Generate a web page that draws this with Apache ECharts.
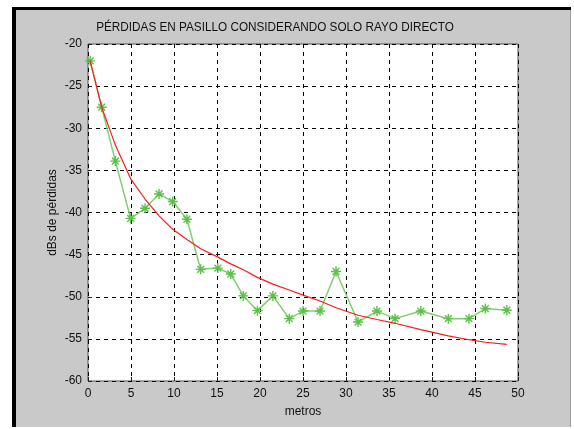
<!DOCTYPE html>
<html>
<head>
<meta charset="utf-8">
<script src="https://cdn.jsdelivr.net/npm/echarts@6/dist/echarts.min.js"></script>
<style>
html,body{margin:0;padding:0;background:#fff;}
#c{width:574px;height:429px;}
</style>
</head>
<body>
<div id="c"></div>
<script>
// distances (metres)
var distances = [0.25, 1.59, 3.18, 4.96, 6.63, 8.26, 9.85, 11.5, 13.1, 15.1, 16.6, 18.06, 19.7, 21.5, 23.4, 25.0, 26.98, 28.84, 31.4, 33.6, 35.7, 38.7, 41.9, 44.3, 46.2, 48.7];
// measured losses (green, starred)
var measured = [-22.0, -27.5, -33.9, -40.7, -39.5, -37.8, -38.7, -40.8, -46.75, -46.6, -47.3, -49.9, -51.65, -49.9, -52.6, -51.7, -51.7, -47.0, -53.0, -51.7, -52.6, -51.7, -52.6, -52.6, -51.4, -51.6];
// theoretical losses (red)
var theoretical = [-22.0, -27.5, -32.0, -36.0, -38.4, -40.4, -42.0, -43.2, -44.3, -45.3, -46.1, -46.8, -47.7, -48.5, -49.2, -49.8, -50.5, -51.3, -52.2, -52.7, -53.15, -53.9, -54.65, -55.1, -55.4, -55.65];
var xTicks = [0, 5, 10, 15, 20, 25, 30, 35, 40, 45, 50];
var yTicks = [-60, -55, -50, -45, -40, -35, -30, -25, -20];
var titleText = 'PÉRDIDAS EN PASILLO CONSIDERANDO SOLO RAYO DIRECTO';
var xName = 'metros';
var yName = 'dBs de pérdidas';

function pairs(xs, ys){ return xs.map(function(x,i){ return [x, ys[i]]; }); }

var star = 'path://M-0.7,-5 L0.7,-5 L0.7,5 L-0.7,5 Z M-5,-0.7 L5,-0.7 L5,0.7 L-5,0.7 Z M-3.9,-2.9 L-2.9,-3.9 L3.9,2.9 L2.9,3.9 Z M2.9,-3.9 L3.9,-2.9 L-2.9,3.9 L-3.9,2.9 Z';

var chart = echarts.init(document.getElementById('c'), null, {renderer:'canvas'});
var font = '"Liberation Sans", Arial, sans-serif';
chart.setOption({
  animation: false,
  backgroundColor: '#ffffff',
  graphic: [
    {type:'rect', shape:{x:12, y:7, width:559, height:420}, style:{fill:'#000000'}, z:-10, silent:true},
    {type:'rect', shape:{x:16, y:10, width:555, height:417}, style:{fill:'#c9c9c9'}, z:-9, silent:true},
    {type:'rect', shape:{x:570, y:10, width:1, height:417}, style:{fill:'#9a9a9a'}, z:-8, silent:true},
    {type:'text', x:275, y:27, scaleX:0.87, style:{text:titleText, fill:'#111', font:'13.5px ' + font, textAlign:'center', textVerticalAlign:'middle'}, z:10}
  ],
  grid: {left:88, right:56, top:44, bottom:48, show:true, backgroundColor:'#ffffff', borderColor:'#555555', borderWidth:1},
  xAxis: {
    type:'value', min:0, max:50, interval:5,
    name:xName, nameLocation:'middle', nameGap:25, nameMoveOverlap:false,
    nameTextStyle:{color:'#111', fontSize:12, fontFamily:font},
    axisLine:{show:false},
    axisTick:{show:true, inside:true, length:4, lineStyle:{color:'#222'}},
    axisLabel:{color:'#111', fontSize:12, fontFamily:font, margin:7,
      formatter:function(v){ return xTicks.indexOf(v) >= 0 ? String(v) : ''; }},
    splitLine:{show:true, lineStyle:{color:'#000', type:[4,4], width:1}}
  },
  yAxis: {
    type:'value', min:-60, max:-20, interval:5,
    name:yName, nameLocation:'middle', nameGap:29, nameRotate:90, nameMoveOverlap:false,
    nameTextStyle:{color:'#111', fontSize:12, fontFamily:font},
    axisLine:{show:false},
    axisTick:{show:true, inside:true, length:4, lineStyle:{color:'#222'}},
    axisLabel:{color:'#111', fontSize:12, fontFamily:font, margin:6,
      formatter:function(v){ return yTicks.indexOf(v) >= 0 ? String(v) : ''; }},
    splitLine:{show:true, lineStyle:{color:'#000', type:[4,4], width:1}}
  },
  series: [
    {type:'line', data:pairs(distances, measured), symbol:star, symbolSize:10,
     lineStyle:{color:'#7fcf6f', width:1.5}, itemStyle:{color:'#5cc04a', borderWidth:0}, z:3},
    {type:'line', data:pairs(distances, theoretical), symbol:'none',
     lineStyle:{color:'#ff1a1a', width:1.2}, z:4}
  ]
});
</script>
</body>
</html>
